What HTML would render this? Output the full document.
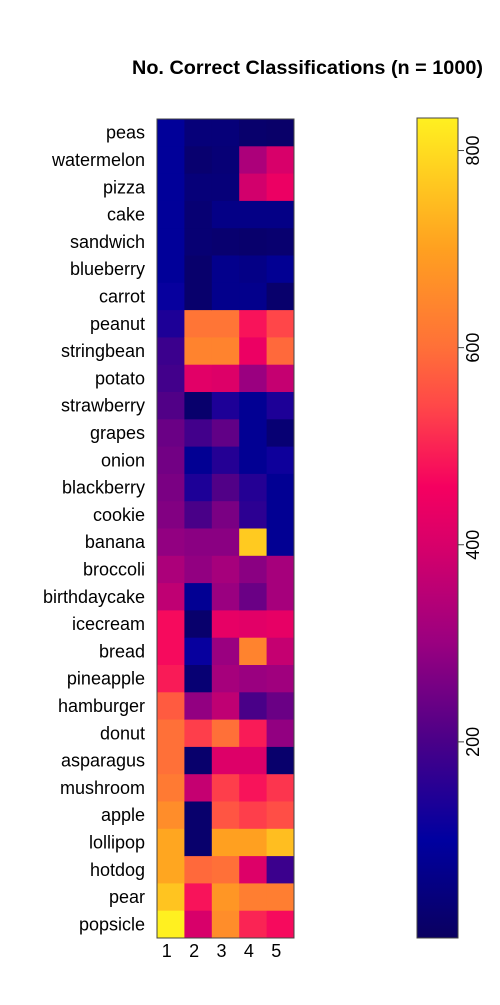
<!DOCTYPE html>
<html><head><meta charset="utf-8"><style>
body{margin:0;background:#fff;width:500px;height:1000px;overflow:hidden}
text{font-family:"Liberation Sans",Arial,sans-serif;fill:#000}
</style></head><body>
<svg id="chart" width="500" height="1000" xmlns="http://www.w3.org/2000/svg">
<text x="307.5" y="74" font-size="19" font-weight="bold" text-anchor="middle" textLength="351" lengthAdjust="spacingAndGlyphs">No. Correct Classifications (n = 1000)</text>
<g id="cells"></g><g id="rowlabels"></g><g id="collabels"></g>
<defs><linearGradient id="cbgrad" x1="0" y1="1" x2="0" y2="0"></linearGradient></defs>
<g id="colorbar"></g>
</svg>
<script>
const categories=["peas","watermelon","pizza","cake","sandwich","blueberry","carrot","peanut","stringbean","potato","strawberry","grapes","onion","blackberry","cookie","banana","broccoli","birthdaycake","icecream","bread","pineapple","hamburger","donut","asparagus","mushroom","apple","lollipop","hotdog","pear","popsicle"];
const columns=["1","2","3","4","5"];
const col1=[90,90,90,90,90,90,110,140,180,190,210,240,250,260,270,290,330,360,470,470,490,570,600,600,620,660,710,710,760,833];
const col2=[40,25,40,30,30,20,20,610,640,420,20,190,80,140,200,280,290,80,20,110,30,290,530,20,370,20,20,590,480,400];
const col3=[40,35,40,60,25,70,70,610,640,410,140,230,150,210,260,280,320,300,430,300,320,360,600,410,530,560,700,600,680,660];
const col4=[20,330,390,60,20,60,70,480,440,300,80,80,80,150,160,770,280,240,420,640,300,200,490,410,480,530,700,410,630,500];
const col5=[15,400,440,60,25,80,20,540,590,370,140,30,120,80,80,80,320,320,430,370,310,240,290,20,520,550,750,180,630,470];
const series=[col1,col2,col3,col4,col5];
const zmin=1,zmax=833;
const cbTicks=[200,400,600,800];
const stops=[[0,"#0A0060"],[0.12,"#0000A0"],[0.24,"#4A0088"],[0.36,"#9A0080"],[0.48,"#D8006A"],[0.55,"#F50060"],[0.65,"#FF4848"],[0.72,"#FF7038"],[0.84,"#FFA020"],[1,"#FFF020"]];
function hex(c){return [1,3,5].map(i=>parseInt(c.substr(i,2),16));}
function color(v){let t=(v-zmin)/(zmax-zmin);t=Math.max(0,Math.min(1,t));
for(let i=1;i<stops.length;i++){if(t<=stops[i][0]){const a=stops[i-1],b=stops[i];const f=(t-a[0])/(b[0]-a[0]);const ca=hex(a[1]),cb=hex(b[1]);return "rgb("+ca.map((x,k)=>Math.round(x+(cb[k]-x)*f)).join(",")+")";}}return stops[stops.length-1][1];}
const X0=157,X1=294,Y0=119,Y1=938;
const cw=(X1-X0)/columns.length, rh=(Y1-Y0)/categories.length;
const xs=j=>X0+j*cw, ys=i=>Y0+i*rh;
const NS="http://www.w3.org/2000/svg";
function mk(tag,attrs,parent){const e=document.createElementNS(NS,tag);for(const k in attrs)e.setAttribute(k,attrs[k]);parent.appendChild(e);return e;}
const cells=document.getElementById('cells');
series.forEach((vals,j)=>vals.forEach((v,i)=>{
const r=mk('rect',{x:xs(j),y:ys(i),width:cw+0.5,height:rh+0.5,fill:color(v)},cells);


}));
const fr=mk('rect',{x:X0,y:Y0,width:X1-X0,height:Y1-Y0,fill:'none',stroke:'#444','stroke-width':1},cells);


const rl=document.getElementById('rowlabels');
categories.forEach((c,i)=>{const t=mk('text',{x:145,y:ys(i)+rh/2+6,'font-size':18,'text-anchor':'end'},rl);t.textContent=c;

});
const cl=document.getElementById('collabels');
columns.forEach((c,j)=>{const t=mk('text',{x:xs(j)+cw/2-4,y:957,'font-size':18,'text-anchor':'middle'},cl);t.textContent=c;

});
const g=document.getElementById('cbgrad');
stops.forEach(s=>mk('stop',{offset:s[0],'stop-color':s[1]},g));
const cb=document.getElementById('colorbar');
const CX0=417,CX1=458,CY0=118,CY1=938;
const cy=v=>CY1-(v-zmin)/(zmax-zmin)*(CY1-CY0);
const bar=mk('rect',{x:CX0,y:CY0,width:CX1-CX0,height:CY1-CY0,fill:'url(#cbgrad)',stroke:'#444','stroke-width':1},cb);


cbTicks.forEach(v=>{const y=cy(v);
const l=mk('line',{x1:CX1,x2:CX1+6,y1:y,y2:y,stroke:'#444'},cb);


const t=mk('text',{x:0,y:0,'font-size':18,'text-anchor':'middle',transform:'translate(479,'+y+') rotate(-90)'},cb);t.textContent=v;

});
</script>
</body></html>
